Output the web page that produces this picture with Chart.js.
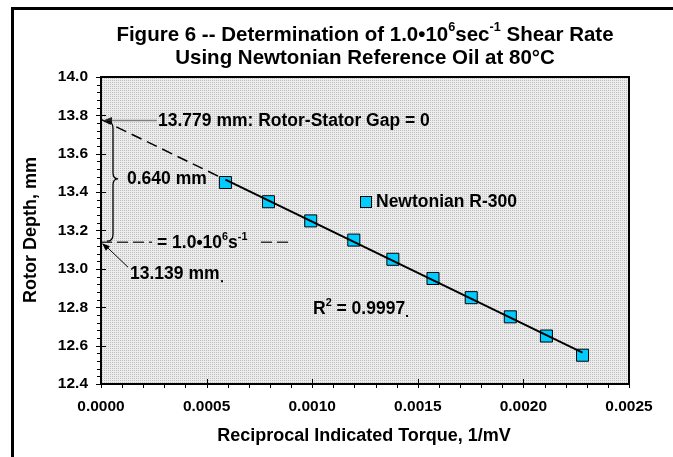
<!DOCTYPE html>
<html>
<head>
<meta charset="utf-8">
<script src="https://cdn.jsdelivr.net/npm/chart.js@4.4.0/dist/chart.umd.min.js"></script>
<style>
  html, body { margin: 0; padding: 0; background: #fff; overflow: hidden; }
  #wrap { position: relative; width: 673px; height: 457px; }
</style>
</head>
<body>
<div id="wrap"><canvas id="c" width="673" height="457"></canvas></div>
<script>
// measured points (reciprocal torque vs rotor depth)
var torqueInv = [0.000589, 0.000793, 0.000993, 0.001197, 0.001382, 0.001572, 0.001753, 0.001938, 0.002109, 0.002280];
var rotorDepth = [13.45, 13.35, 13.25, 13.15, 13.05, 12.95, 12.85, 12.75, 12.65, 12.55];

// fitted line, its dashed extension to x = 0, and the 1.0e6 s-1 level
var fitX = [0.000589, 0.002280];
var fitY = [13.465, 12.563];
var extX = [0, 0.000589];
var extY = [13.779, 13.465];
var levelX = [0, 0.00090];
var levelY = [13.139, 13.139];

var xTicks = { min: 0, max: 0.0025, step: 0.0005, minor: 0.0001 };
var yTicks = { min: 12.4, max: 14.0, step: 0.2, minor: 0.04 };

var FONT = "'Liberation Sans', Arial, sans-serif";

function pts(xs, ys) {
  var out = [];
  for (var i = 0; i < xs.length; i++) out.push({ x: xs[i], y: ys[i] });
  return out;
}

// dotted grey fill of the plot area
var pc = document.createElement('canvas');
pc.width = 2; pc.height = 2;
var pctx = pc.getContext('2d');
pctx.fillStyle = '#ececec'; pctx.fillRect(0, 0, 2, 2);
pctx.fillStyle = '#bfbfbf'; pctx.fillRect(0, 0, 1, 1);
var plotFill = pctx.createPattern(pc, 'repeat');

function font(size, ctx) { ctx.font = 'bold ' + size + 'px ' + FONT; }

// text with superscript pieces: parts = [[text, isSup], ...]
function richText(ctx, parts, x, y, size, align) {
  var w = 0, i;
  var widths = [];
  for (i = 0; i < parts.length; i++) {
    font(parts[i][1] ? size * 0.62 : size, ctx);
    widths.push(ctx.measureText(parts[i][0]).width);
    w += widths[i];
  }
  var cx = align === 'center' ? x - w / 2 : x;
  ctx.textAlign = 'left';
  ctx.textBaseline = 'middle';
  for (i = 0; i < parts.length; i++) {
    font(parts[i][1] ? size * 0.62 : size, ctx);
    ctx.fillText(parts[i][0], cx, parts[i][1] ? y - size * 0.36 : y);
    cx += widths[i];
  }
  return w;
}

function line(ctx, x1, y1, x2, y2) {
  ctx.beginPath(); ctx.moveTo(x1, y1); ctx.lineTo(x2, y2); ctx.stroke();
}

function arrowHead(ctx, tx, ty, fx, fy, len, half) {
  var ang = Math.atan2(ty - fy, tx - fx);
  ctx.beginPath();
  ctx.moveTo(tx, ty);
  ctx.lineTo(tx - len * Math.cos(ang) + half * Math.sin(ang), ty - len * Math.sin(ang) - half * Math.cos(ang));
  ctx.lineTo(tx - len * Math.cos(ang) - half * Math.sin(ang), ty - len * Math.sin(ang) + half * Math.cos(ang));
  ctx.closePath();
  ctx.fill();
}

var decor = {
  id: 'decor',
  beforeDatasetsDraw: function (chart) {
    var ctx = chart.ctx, a = chart.chartArea;
    ctx.save();
    ctx.fillStyle = plotFill;
    ctx.fillRect(a.left, a.top, a.right - a.left, a.bottom - a.top);
    ctx.restore();
  },
  afterDatasetsDraw: function (chart) {
    var ctx = chart.ctx, xs = chart.scales.x, ys = chart.scales.y;
    var x0 = xs.getPixelForValue(0);
    var yTop = ys.getPixelForValue(extY[0]);
    var yLow = ys.getPixelForValue(levelY[0]);
    ctx.save();
    ctx.fillStyle = '#000';

    // label box over the level line
    ctx.fillStyle = plotFill;
    ctx.fillRect(x0 + 51, yLow - 11, 104, 22);
    ctx.fillStyle = '#000';
    richText(ctx, [['= 1.0\u202210', 0], ['6', 1], ['s', 0], ['-1', 1]], x0 + 56, yLow + 1, 17.5, 'left');

    // gap = 0 label with grey arrow
    ctx.strokeStyle = '#7f7f7f';
    ctx.lineWidth = 1.5;
    line(ctx, x0 + 56, yTop + 1, x0 + 6, yTop + 1);
    ctx.fillStyle = '#222';
    arrowHead(ctx, x0 + 2, yTop + 1, x0 + 12, yTop + 1, 9, 3.5);
    ctx.fillStyle = '#000';
    richText(ctx, [['13.779 mm: Rotor-Stator Gap = 0', 0]], x0 + 57, yTop + 2, 17.5, 'left');

    // brace between the two depths
    var bx = x0 + 12, mid = (yTop + yLow) / 2 - 2;
    ctx.strokeStyle = '#000';
    ctx.lineWidth = 1.3;
    ctx.beginPath();
    ctx.moveTo(bx - 6, yTop + 2);
    ctx.quadraticCurveTo(bx, yTop + 2, bx, yTop + 9);
    ctx.lineTo(bx, mid - 6);
    ctx.quadraticCurveTo(bx, mid, bx + 5, mid);
    ctx.quadraticCurveTo(bx, mid, bx, mid + 6);
    ctx.lineTo(bx, yLow - 8);
    ctx.quadraticCurveTo(bx, yLow - 1, bx - 6, yLow - 1);
    ctx.stroke();
    richText(ctx, [['0.640 mm', 0]], x0 + 26, mid, 17.5, 'left');

    // 13.139 arrow
    ctx.lineWidth = 1;
    line(ctx, x0 + 27, yLow + 25, x0 + 4, yLow + 3);
    arrowHead(ctx, x0 + 1, yLow + 1, x0 + 12, yLow + 11, 8, 3);
    richText(ctx, [['13.139 mm', 0]], x0 + 29, yLow + 32, 17.5, 'left');
    ctx.fillRect(x0 + 120, yLow + 38, 2, 2);

    // R squared
    richText(ctx, [['R', 0], ['2', 1], [' = 0.9997', 0]], 313, 309, 17.5, 'left');
    ctx.fillRect(406, 315, 2, 2);

    // legend
    ctx.fillStyle = '#00ccff';
    ctx.fillRect(360, 196, 11, 11);
    ctx.strokeStyle = '#000';
    ctx.lineWidth = 1;
    ctx.strokeRect(360.5, 196.5, 11, 11);
    ctx.fillStyle = '#000';
    richText(ctx, [['Newtonian R-300', 0]], 376, 202, 17.5, 'left');
    ctx.restore();
  },
  afterDraw: function (chart) {
    var ctx = chart.ctx, a = chart.chartArea, xs = chart.scales.x, ys = chart.scales.y;
    ctx.save();
    // outer frame
    ctx.strokeStyle = '#000';
    ctx.lineWidth = 3;
    ctx.beginPath();
    ctx.moveTo(12.5, 470); ctx.lineTo(12.5, 8.5); ctx.lineTo(690, 8.5);
    ctx.stroke();

    // tick marks
    ctx.lineWidth = 1;
    var n = Math.round((xTicks.max - xTicks.min) / xTicks.minor);
    var per = Math.round(xTicks.step / xTicks.minor);
    for (var i = 0; i <= n; i++) {
      var px = Math.round(xs.getPixelForValue(xTicks.min + i * xTicks.minor)) + 0.5;
      if (i % per === 0) line(ctx, px, a.bottom - 5, px, a.bottom + 4);
      else line(ctx, px, a.bottom, px, a.bottom + 4);
    }
    n = Math.round((yTicks.max - yTicks.min) / yTicks.minor);
    per = Math.round(yTicks.step / yTicks.minor);
    for (i = 0; i <= n; i++) {
      var py = Math.round(ys.getPixelForValue(yTicks.min + i * yTicks.minor)) + 0.5;
      if (i % per === 0) line(ctx, a.left - 5, py, a.left + 5, py);
      else line(ctx, a.left - 4, py, a.left, py);
    }

    // plot border
    ctx.lineWidth = 2;
    ctx.strokeRect(a.left, a.top, a.right - a.left, a.bottom - a.top);

    // titles
    ctx.fillStyle = '#000';
    richText(ctx, [['Figure 6 -- Determination of 1.0\u202210', 0], ['6', 1], ['sec', 0], ['-1', 1], [' Shear Rate', 0]], 365, 35, 20.5, 'center');
    richText(ctx, [['Using Newtonian Reference Oil at 80\u00b0C', 0]], 365, 58, 20.5, 'center');
    richText(ctx, [['Reciprocal Indicated Torque, 1/mV', 0]], 364, 436, 18, 'center');
    ctx.translate(31, 230);
    ctx.rotate(-Math.PI / 2);
    richText(ctx, [['Rotor Depth, mm', 0]], 0, 0, 18, 'center');
    ctx.restore();
  }
};

var tickFont = { family: FONT, size: 15.5, weight: 'bold' };

new Chart(document.getElementById('c'), {
  type: 'scatter',
  data: {
    datasets: [
      {
        label: 'fit',
        data: pts(fitX, fitY),
        showLine: true,
        borderColor: '#000',
        borderWidth: 2,
        pointRadius: 0
      },
      {
        label: 'Newtonian R-300',
        data: pts(torqueInv, rotorDepth),
        pointStyle: 'rect',
        pointRadius: 8.5,
        pointHoverRadius: 8.5,
        backgroundColor: '#00ccff',
        borderColor: '#000',
        borderWidth: 1
      },
      {
        label: 'extension',
        data: pts(extX, extY),
        showLine: true,
        borderColor: '#000',
        borderWidth: 1.5,
        borderDash: [11, 6],
        pointRadius: 0
      },
      {
        label: 'level',
        data: pts(levelX, levelY),
        showLine: true,
        borderColor: '#333',
        borderWidth: 1.5,
        borderDash: [11, 5],
        pointRadius: 0
      }
    ]
  },
  options: {
    responsive: false,
    animation: false,
    devicePixelRatio: 1,
    layout: { padding: { top: 77, right: 44, left: 0, bottom: 0 } },
    plugins: {
      legend: { display: false },
      title: { display: false },
      tooltip: { enabled: false }
    },
    scales: {
      x: {
        type: 'linear',
        min: xTicks.min,
        max: xTicks.max,
        grid: { display: false, drawTicks: false },
        border: { display: false },
        ticks: {
          stepSize: xTicks.step,
          padding: 13,
          color: '#000',
          font: tickFont,
          maxRotation: 0,
          callback: function (v) { return Number(v).toFixed(4); }
        },
        afterFit: function (s) { s.height = 73; }
      },
      y: {
        type: 'linear',
        min: yTicks.min,
        max: yTicks.max,
        grid: { display: false, drawTicks: false },
        border: { display: false },
        ticks: {
          stepSize: yTicks.step,
          padding: 13,
          color: '#000',
          font: tickFont,
          callback: function (v) { return Number(v).toFixed(1); }
        },
        afterFit: function (s) { s.width = 101; }
      }
    }
  },
  plugins: [decor]
});
</script>
</body>
</html>
